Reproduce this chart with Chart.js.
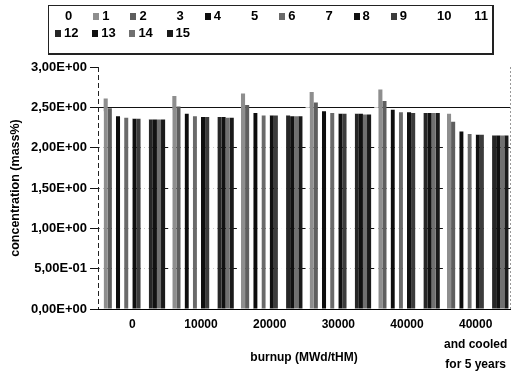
<!DOCTYPE html>
<html>
<head>
<meta charset="utf-8">
<script src="https://cdn.jsdelivr.net/npm/chart.js@4/dist/chart.umd.min.js"></script>
<style>
  body { margin: 0; background: #fff; }
  #wrap { position: relative; width: 515px; height: 372px; }
  #legend {
    position: absolute; left: 48px; top: 5px; width: 443px; height: 47px;
    border: 1px solid #222; border-right-width: 2px; border-bottom-width: 2px;
    font: bold 13px 'Liberation Sans', Arial, sans-serif; color: #000;
  }
  #legend .item { position: absolute; height: 14px; line-height: 14px; white-space: nowrap; }
  #legend .box { display: inline-block; width: 6px; height: 7px; margin-right: 3px; vertical-align: 0px; }
</style>
</head>
<body>
<div id="wrap">
  <canvas id="chart" width="515" height="372"></canvas>
  <div id="legend"></div>
</div>
<script>
const categories = ['0', '10000', '20000', '30000', '40000', ['40000', 'and cooled', 'for 5 years']];
const seriesNames = ['0', '1', '2', '3', '4', '5', '6', '7', '8', '9', '10', '11', '12', '13', '14', '15'];

const s0 = [2.45, 2.47, 2.49, 2.50, 2.50, 2.44];
const s1 = [2.61, 2.64, 2.67, 2.69, 2.72, 2.42];
const s2 = [2.49, 2.51, 2.53, 2.56, 2.58, 2.32];
const s3 = [2.42, 2.45, 2.47, 2.49, 2.49, 2.26];
const s4 = [2.39, 2.42, 2.43, 2.45, 2.47, 2.20];
const s5 = [2.38, 2.40, 2.42, 2.44, 2.45, 2.18];
const s6 = [2.37, 2.39, 2.40, 2.43, 2.44, 2.17];
const s7 = [2.36, 2.38, 2.40, 2.42, 2.44, 2.16];
const s8 = [2.36, 2.38, 2.40, 2.42, 2.44, 2.16];
const s9 = [2.36, 2.38, 2.40, 2.42, 2.43, 2.16];
const s10 = [2.35, 2.38, 2.40, 2.42, 2.43, 2.15];
const s11 = [2.35, 2.38, 2.40, 2.42, 2.43, 2.15];
const s12 = [2.35, 2.38, 2.40, 2.42, 2.43, 2.15];
const s13 = [2.35, 2.38, 2.39, 2.42, 2.43, 2.15];
const s14 = [2.35, 2.37, 2.39, 2.41, 2.43, 2.15];
const s15 = [2.35, 2.37, 2.39, 2.41, 2.43, 2.15];
const seriesValues = [s0, s1, s2, s3, s4, s5, s6, s7, s8, s9, s10, s11, s12, s13, s14, s15];

const yTickLabels = ['0,00E+00', '5,00E-01', '1,00E+00', '1,50E+00', '2,00E+00', '2,50E+00', '3,00E+00'];

// scanned greys; the "missing" series print white
const colors = ['#ffffff', '#8e8e8e', '#5e5e5e', '#ffffff', '#0d0d0d', '#ffffff', '#6a6a6a', '#ffffff',
                '#101010', '#3c3c3c', '#ffffff', '#ffffff', '#262626', '#111111', '#707070', '#1a1a1a'];

Chart.defaults.font.family = "'Liberation Sans', Arial, sans-serif";
Chart.defaults.font.weight = 'bold';
Chart.defaults.font.size = 12;
Chart.defaults.color = '#000';

// dashed left edge and dotted grey right edge of the plot area
const plotEdges = {
  id: 'plotEdges',
  afterDraw(chart) {
    const { ctx, chartArea: a } = chart;
    ctx.save();
    ctx.lineWidth = 1;
    ctx.strokeStyle = '#222';
    ctx.setLineDash([5, 3]);
    ctx.beginPath();
    ctx.moveTo(a.left + 0.5, a.top);
    ctx.lineTo(a.left + 0.5, a.bottom);
    ctx.stroke();
    ctx.strokeStyle = '#999';
    ctx.setLineDash([2, 2]);
    ctx.beginPath();
    ctx.moveTo(a.right + 0.5, a.top);
    ctx.lineTo(a.right + 0.5, a.bottom);
    ctx.stroke();
    ctx.restore();
  },
};

const chart = new Chart(document.getElementById('chart'), {
  type: 'bar',
  data: {
    labels: categories,
    datasets: seriesNames.map((name, i) => ({
      label: name,
      data: seriesValues[i],
      backgroundColor: colors[i],
      borderWidth: 0,
      barPercentage: 1,
      categoryPercentage: 0.955,
    })),
  },
  options: {
    responsive: false,
    animation: false,
    layout: { padding: { top: 67, left: 0, right: 5, bottom: 0 } },
    plugins: { legend: { display: false }, tooltip: { enabled: false } },
    scales: {
      x: {
        grid: { display: false, drawTicks: false },
        border: { color: '#000' },
        ticks: { padding: 5, font: { size: 12, weight: 'bold', lineHeight: 1.7 }, maxRotation: 0, autoSkip: false },
        title: { display: true, text: 'burnup (MWd/tHM)', font: { size: 12, weight: 'bold' }, padding: { top: 0, bottom: 7 } },
        afterFit: s => { s.height = 63; },
      },
      y: {
        min: 0,
        max: 3,
        ticks: { stepSize: 0.5, padding: 3, font: { size: 13, weight: 'bold' }, callback: (v, i) => yTickLabels[i] },
        grid: {
          color: c => (c.tick && c.tick.value === 3 ? 'rgba(0,0,0,0)' : '#111'),
          tickColor: '#111',
          tickLength: 8,
        },
        border: { display: false },
        title: { display: true, text: 'concentration (mass%)', font: { size: 12.5, weight: 'bold' }, padding: { top: 8, bottom: 0 } },
        afterFit: s => { s.width = 98; },
      },
    },
  },
  plugins: [plotEdges],
});

// legend box in two rows like the original
const legend = document.getElementById('legend');
chart.data.datasets.forEach((ds, i) => {
  const row = i < 12 ? 0 : 1;
  const col = i < 12 ? i : i - 12;
  const item = document.createElement('div');
  item.className = 'item';
  item.style.left = (row === 0 ? 7 : 6) + col * 37.2 + 'px';
  item.style.top = (row === 0 ? 3 : 20) + 'px';
  const box = document.createElement('span');
  box.className = 'box';
  box.style.background = ds.backgroundColor;
  item.appendChild(box);
  item.appendChild(document.createTextNode(ds.label));
  legend.appendChild(item);
});
</script>
</body>
</html>
